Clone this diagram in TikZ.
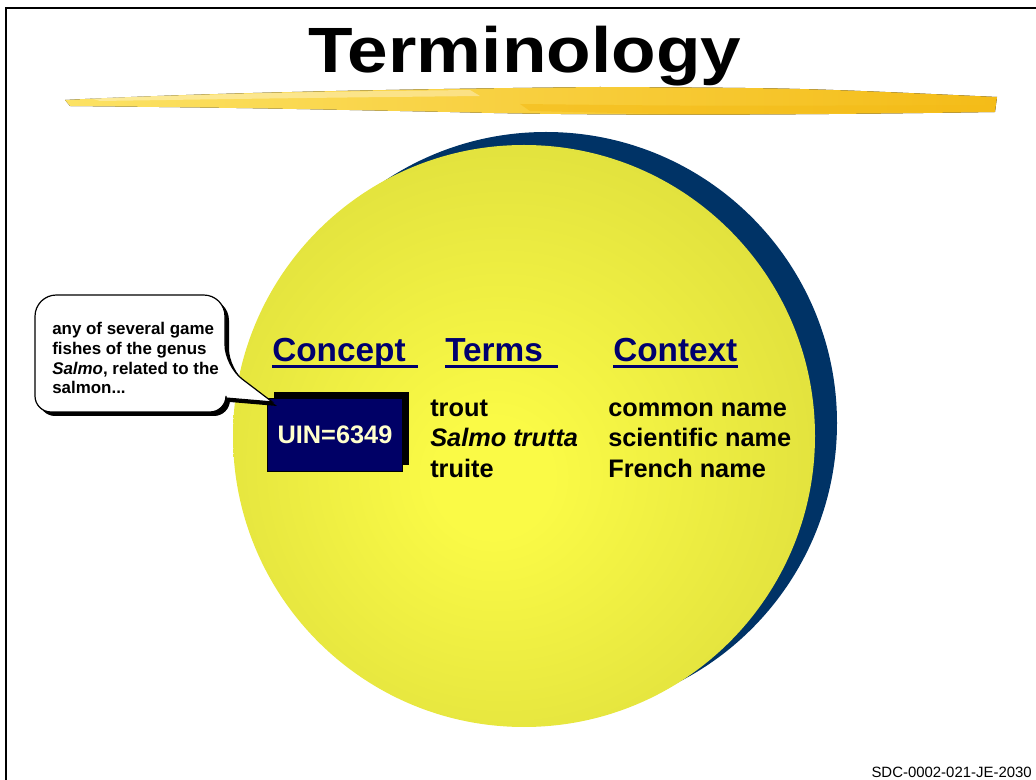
\documentclass[tikz,border=0pt]{standalone}
\usepackage{fontspec}
\setmainfont{Liberation Sans}
\usetikzlibrary{shadows}

\definecolor{ringnavy}{RGB}{0,51,102}
\definecolor{ballhi}{RGB}{250,250,70}
\definecolor{balllo}{RGB}{221,221,60}
\definecolor{headblue}{RGB}{0,0,110}
\definecolor{uinblue}{RGB}{0,0,102}
\definecolor{uintext}{RGB}{255,255,204}
\definecolor{brushlt}{RGB}{252,226,100}
\definecolor{brushdk}{RGB}{244,188,24}

\pgfdeclareradialshading{ballglow}{\pgfpoint{-3bp}{-4bp}}{color(0bp)=(ballhi); color(5bp)=(ballhi); color(32bp)=(balllo); color(50bp)=(balllo)}

\tikzset{
  titletext/.style={font=\fontsize{48}{56}\selectfont\bfseries, inner sep=0, anchor=base},
  headtext/.style={font=\fontsize{25}{30}\selectfont\bfseries, text=headblue, inner sep=0, anchor=base west},
  headrule/.style={draw=headblue, line width=1.8pt},
  bodytext/.style={font=\fontsize{19}{23}\selectfont\bfseries, inner sep=0, anchor=base west},
  notetext/.style={font=\fontsize{12.7}{14.8}\selectfont\bfseries, inner sep=0, align=left},
  uinbox/.style={fill=uinblue, draw=black, line width=0.6pt, text=uintext,
    font=\fontsize{19}{23}\selectfont\bfseries, minimum width=101pt, minimum height=55pt,
    drop shadow={shadow xshift=5pt, shadow yshift=5pt, opacity=1, fill=black}},
  foottext/.style={font=\fontsize{11.2}{13}\selectfont, inner sep=0}
}

\begin{document}
\begin{tikzpicture}[x=0.75pt,y=0.75pt,yscale=-1,xscale=1]
\useasboundingbox (0,0) rectangle (1036,780);

% frame
\draw[line width=1.8pt] (6,780) -- (6,8) -- (1036,8);

% brush stroke under the title
\fill[left color=brushlt, right color=brushdk] (65,100) .. controls (200,93) and (400,89) .. (600,87) .. controls (800,88) .. (997,97) -- (995,112) .. controls (800,115) and (600,116) .. (450,112) .. controls (250,108) .. (70,106) -- cycle;
\fill[white, opacity=0.35] (90,98) .. controls (300,92) .. (470,90) -- (480,96) .. controls (300,98) .. (100,101) -- cycle;
\fill[brushdk, opacity=0.6] (520,104) .. controls (700,106) .. (990,105) -- (988,111) .. controls (700,115) .. (530,111) -- cycle;

% title
\node[titletext] (title) at (525,73) {\scalebox{1.14}[1]{Terminology}};

% globe
\fill[ringnavy] (546,423) circle (291);
\shade[shading=ballglow] (524,436) circle (291);

% headings
\node[headtext] (concept) at (272,362) {Concept};
\node[headtext] (terms) at (445,362) {Terms};
\node[headtext] (context) at (613,362) {Context};
\draw[headrule] ([yshift=3.5pt]concept.base west) -- ++(146,0);
\draw[headrule] ([yshift=3.5pt]terms.base west) -- ++(113,0);
\draw[headrule] ([yshift=3.5pt]context.base west) -- ++(125,0);

% concept box
\node[uinbox] (uin) at (335,435) {UIN=6349};

% terms and contexts
\node[bodytext] (trout) at (430,417) {trout};
\node[bodytext] (salmo) at (430,447) {\textit{Salmo trutta}};
\node[bodytext] (truite) at (430,478) {truite};
\node[bodytext] (common) at (608,417) {common name};
\node[bodytext] (scientific) at (608,447) {scientific name};
\node[bodytext] (french) at (608,478) {French name};

% definition callout
\fill[black, shift={(4,4)}] (35,350) [rounded corners=16] -- (35,295) -- (225,295) -- (225,366) [sharp corners] -- (273,402) -- (226,398) [rounded corners=12] -- (226,412) -- (35,412) -- cycle;
\draw[fill=white, line width=0.9pt] (35,350) [rounded corners=16] -- (35,295) -- (225,295) -- (225,366) [sharp corners] -- ([shift={(5,4)}]uin.north west) -- (226,398) [rounded corners=12] -- (226,412) -- (35,412) -- cycle;
\node[notetext, anchor=north west] (note) at (52,322) {any of several game\\fishes of the genus\\\textit{Salmo}, related to the\\salmon...};

% footer
\node[foottext, anchor=base east] (docid) at (1032,777) {SDC-0002-021-JE-2030};

\end{tikzpicture}
\end{document}
